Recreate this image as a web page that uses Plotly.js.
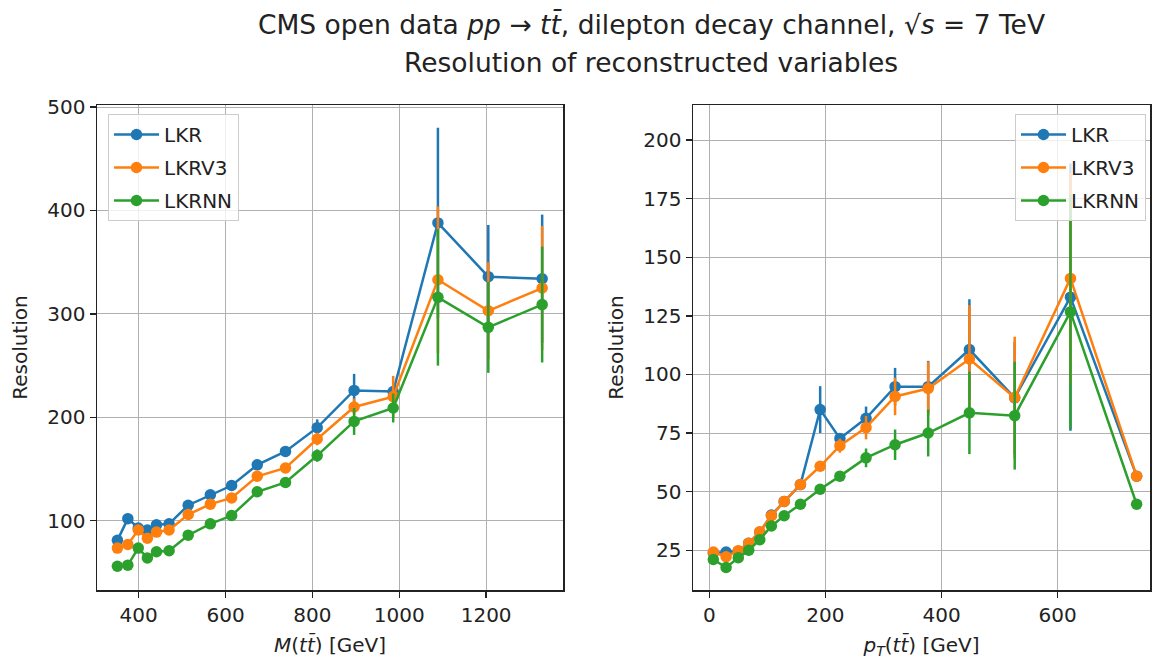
<!DOCTYPE html>
<html>
<head>
<meta charset="utf-8">
<script src="https://cdn.plot.ly/plotly-3.0.1.min.js"></script>
<style>html,body{margin:0;padding:0;background:#fff;}#chart{width:1155px;height:659px;}</style>
</head>
<body>
<div id="chart"></div>
<script>
// ---- Left panel: M(tt̄) ----
const massX = [351, 375, 399, 420, 441, 470, 514, 565, 614, 673, 738, 811, 896, 986, 1089, 1205, 1329];
const massLKR = [81, 102, 93, 91, 96, 97, 115, 125, 134, 154, 167, 190, 226, 225, 388, 336, 334];
const massLKRerr = [3, 5, 3, 3, 3, 3, 3, 3, 3, 4, 4, 8, 16, 6, 92, 50, 62];
const massLKRV3 = [73.5, 77, 91, 83, 89, 91, 106, 116, 122, 143, 151, 179, 210, 220, 333, 303, 325];
const massLKRV3err = [3, 3, 3, 3, 3, 3, 3, 3, 3, 4, 4, 6, 8, 20, 71, 47, 60];
const massLKRNN = [56, 57, 73.5, 64, 70, 71, 86, 97, 105, 128, 137, 163, 196, 209, 316, 287, 309];
const massLKRNNerr = [3, 3, 3, 3, 3, 3, 3, 3, 3, 4, 4, 6, 13, 14, 66, 44, 56];

// ---- Right panel: pT(tt̄) ----
const ptX = [7, 29, 50, 68, 87, 107, 129, 157, 191, 225, 270, 320, 377, 448, 526, 622, 736];
const ptLKR = [23.8, 24.2, 24.5, 28, 32.6, 40, 45.8, 53, 85, 72.7, 81.3, 94.8, 94.8, 110.6, 90, 133, 56.6];
const ptLKRerr = [1, 1, 1, 1, 1, 1, 1, 1, 10, 2, 5, 8, 11, 21.5, 24, 57, 0];
const ptLKRV3 = [24.2, 22.2, 24.8, 28, 32.9, 39.7, 45.8, 53, 60.8, 69.6, 77.3, 90.6, 94, 106.6, 90.1, 141, 56.6];
const ptLKRV3err = [1, 1, 1, 1, 1, 1, 1, 1, 2, 3, 5, 8, 11.5, 23, 26, 45, 0];
const ptLKRNN = [21, 17.6, 21.8, 25, 29.5, 35.3, 39.7, 44.6, 51, 56.6, 64.4, 70, 75, 83.6, 82.4, 126.7, 44.6];
const ptLKRNNerr = [1, 1, 1, 1, 1, 1, 1, 1, 2, 2, 4, 6.5, 10, 17.6, 23, 50, 0];

const seriesNames = ['LKR', 'LKRV3', 'LKRNN'];
const colors = ['#1f77b4', '#ff7f0e', '#2ca02c'];
const titleLines = [
  'CMS open data <i>pp</i> → <i>tt̄</i>, dilepton decay channel, √<i>s</i> = 7 TeV',
  'Resolution of reconstructed variables'
];

function mk(x, y, err, i, xa, ya, leg) {
  return {
    type: 'scatter', mode: 'lines+markers', x: x, y: y, name: seriesNames[i],
    xaxis: xa, yaxis: ya, legend: leg, legendgroup: leg + i,
    line: {color: colors[i], width: 2.5},
    marker: {color: colors[i], size: 11.5},
    error_y: {type: 'data', array: err, visible: true, color: colors[i], thickness: 2.5, width: 0}
  };
}

const traces = [
  mk(massX, massLKR, massLKRerr, 0, 'x', 'y', 'legend'),
  mk(massX, massLKRV3, massLKRV3err, 1, 'x', 'y', 'legend'),
  mk(massX, massLKRNN, massLKRNNerr, 2, 'x', 'y', 'legend'),
  mk(ptX, ptLKR, ptLKRerr, 0, 'x2', 'y2', 'legend2'),
  mk(ptX, ptLKRV3, ptLKRV3err, 1, 'x2', 'y2', 'legend2'),
  mk(ptX, ptLKRNN, ptLKRNNerr, 2, 'x2', 'y2', 'legend2')
];

const FF = 'DejaVu Sans, sans-serif';
const font = {family: FF, size: 20, color: '#222'};
const axBase = {
  showline: true, mirror: true, linecolor: '#222', linewidth: 1.5,
  ticks: 'outside', ticklen: 6, tickwidth: 1.3, tickcolor: '#222',
  showgrid: true, gridcolor: '#b0b0b0', gridwidth: 1,
  zeroline: false, tickfont: {family: FF, size: 20, color: '#222'}
};
const H = 659, W = 1155;
const yDom = [1 - 590 / H, 1 - 105 / H];
const legBase = {
  xanchor: 'left', yanchor: 'top',
  bgcolor: 'rgba(255,255,255,0.8)', bordercolor: '#cccccc', borderwidth: 1,
  font: {family: FF, size: 20, color: '#222'},
  traceorder: 'grouped', tracegroupgap: 4,
  itemwidth: 45, entrywidth: 150, entrywidthmode: 'pixels'
};

const layout = {
  width: W, height: H,
  margin: {l: 0, r: 0, t: 0, b: 0},
  paper_bgcolor: '#fff', plot_bgcolor: '#fff',
  font: font,
  showlegend: true,
  annotations: [
    {text: titleLines[0], xref: 'paper', yref: 'paper', x: 651 / W, y: 1 - 25 / H,
     xanchor: 'center', yanchor: 'middle', showarrow: false, font: {family: FF, size: 26.5, color: '#222'}},
    {text: titleLines[1], xref: 'paper', yref: 'paper', x: 651 / W, y: 1 - 62 / H,
     xanchor: 'center', yanchor: 'middle', showarrow: false, font: {family: FF, size: 26.5, color: '#222'}}
  ],
  xaxis: Object.assign({}, axBase, {
    domain: [97 / W, 563 / W], range: [304, 1377], tickvals: [400, 600, 800, 1000, 1200],
    title: {text: '<i>M</i>(<i>tt̄</i>) [GeV]', standoff: 12, font: font}, anchor: 'y'
  }),
  yaxis: Object.assign({}, axBase, {
    domain: yDom, range: [33, 502], tickvals: [100, 200, 300, 400, 500],
    title: {text: 'Resolution', standoff: 14, font: font}, anchor: 'x'
  }),
  xaxis2: Object.assign({}, axBase, {
    domain: [693 / W, 1150 / W], range: [-28, 759], tickvals: [0, 200, 400, 600],
    title: {text: '<i>p</i><sub><i>T</i></sub>(<i>tt̄</i>) [GeV]', standoff: 12, font: font}, anchor: 'y2'
  }),
  yaxis2: Object.assign({}, axBase, {
    domain: yDom, range: [8, 215], tickvals: [25, 50, 75, 100, 125, 150, 175, 200],
    title: {text: 'Resolution', standoff: 14, font: font}, anchor: 'x2'
  }),
  legend: Object.assign({}, legBase, {x: 108 / W, y: 1 - 114 / H}),
  legend2: Object.assign({}, legBase, {x: 1146 / W, y: 1 - 114 / H, xanchor: 'right'})
};

Plotly.newPlot('chart', traces, layout, {displayModeBar: false, staticPlot: true});
</script>
</body>
</html>
